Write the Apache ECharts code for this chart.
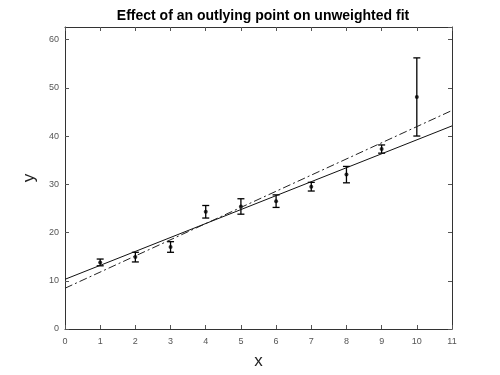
<!DOCTYPE html>
<html><head><meta charset="utf-8">
<script src="https://cdn.jsdelivr.net/npm/echarts@6/dist/echarts.min.js"></script>
<style>html,body{margin:0;padding:0;background:#fff}#c{width:500px;height:375px}</style>
</head><body><div id="c"></div>
<script>
const xValues = [1, 2, 3, 4, 5, 6, 7, 8, 9, 10];
const yValues = [13.8, 14.9, 17.0, 24.3, 25.4, 26.5, 29.5, 32.0, 37.3, 48.1];
const yErrors = [0.7, 1.0, 1.1, 1.3, 1.6, 1.3, 0.9, 1.7, 0.85, 8.1];
const weightedFit = [[0, 10.3], [11, 42.1]];
const unweightedFit = [[0, 8.45], [11, 45.3]];
const titleText = 'Effect of an outlying point on unweighted fit';

const points = xValues.map((x, i) => [x, yValues[i]]);
const errData = xValues.map((x, i) => [x, yValues[i] - yErrors[i], yValues[i] + yErrors[i]]);

const font = 'Liberation Sans, Arial, Helvetica, sans-serif';
function axisCommon() {
  return {
    axisLine: {show: true, onZero: false, lineStyle: {color: '#333', width: 1}},
    axisTick: {show: true, inside: true, length: 4, lineStyle: {color: '#555'}},
    splitLine: {show: false}
  };
}
const chart = echarts.init(document.getElementById('c'), null, {renderer: 'canvas'});
chart.setOption({
  animation: false,
  backgroundColor: '#fff',
  title: {text: titleText, left: 258, textAlign: 'center', top: 4,
    textStyle: {fontFamily: font, fontSize: 14, fontWeight: 'bold', color: '#000'}},
  grid: {left: 65, right: 48, top: 27, bottom: 42},
  xAxis: [
    Object.assign({type: 'value', min: 0, max: 11, interval: 1, position: 'bottom',
      name: 'x', nameLocation: 'middle', nameGap: 24,
      nameTextStyle: {fontFamily: font, fontSize: 17, color: '#222'},
      axisLabel: {fontFamily: font, fontSize: 9, color: '#555', margin: 8}}, axisCommon()),
    Object.assign({type: 'value', min: 0, max: 11, interval: 1, position: 'top',
      axisLabel: {show: false}}, axisCommon())
  ],
  yAxis: [
    Object.assign({type: 'value', min: 0, max: 62.6, interval: 10, position: 'left',
      name: 'y', nameLocation: 'middle', nameGap: 8, nameRotate: 90,
      nameTextStyle: {fontFamily: font, fontSize: 17, color: '#222'},
      axisLabel: {fontFamily: font, fontSize: 9, color: '#555', margin: 6, showMaxLabel: false}}, axisCommon()),
    Object.assign({type: 'value', min: 0, max: 62.6, interval: 10, position: 'right',
      axisLabel: {show: false}}, axisCommon())
  ],
  series: [
    {type: 'line', data: weightedFit, symbol: 'none', xAxisIndex: 0, yAxisIndex: 0,
      lineStyle: {color: '#111', width: 1}},
    {type: 'line', data: unweightedFit, symbol: 'none', xAxisIndex: 0, yAxisIndex: 0,
      lineStyle: {color: '#222', width: 1, type: [8, 3, 2, 3]}},
    {type: 'custom', data: errData, xAxisIndex: 0, yAxisIndex: 0,
      renderItem: function (params, api) {
        const lo = api.coord([api.value(0), api.value(1)]);
        const hi = api.coord([api.value(0), api.value(2)]);
        const w = 3.5;
        const st = {stroke: '#000', lineWidth: 1.3};
        return {type: 'group', children: [
          {type: 'line', shape: {x1: lo[0], y1: lo[1], x2: hi[0], y2: hi[1]}, style: st},
          {type: 'line', shape: {x1: lo[0] - w, y1: lo[1], x2: lo[0] + w, y2: lo[1]}, style: st},
          {type: 'line', shape: {x1: hi[0] - w, y1: hi[1], x2: hi[0] + w, y2: hi[1]}, style: st}
        ]};
      }},
    {type: 'scatter', data: points, symbol: 'circle', symbolSize: 4, xAxisIndex: 0, yAxisIndex: 0,
      itemStyle: {color: '#000'}}
  ]
});
</script></body></html>
